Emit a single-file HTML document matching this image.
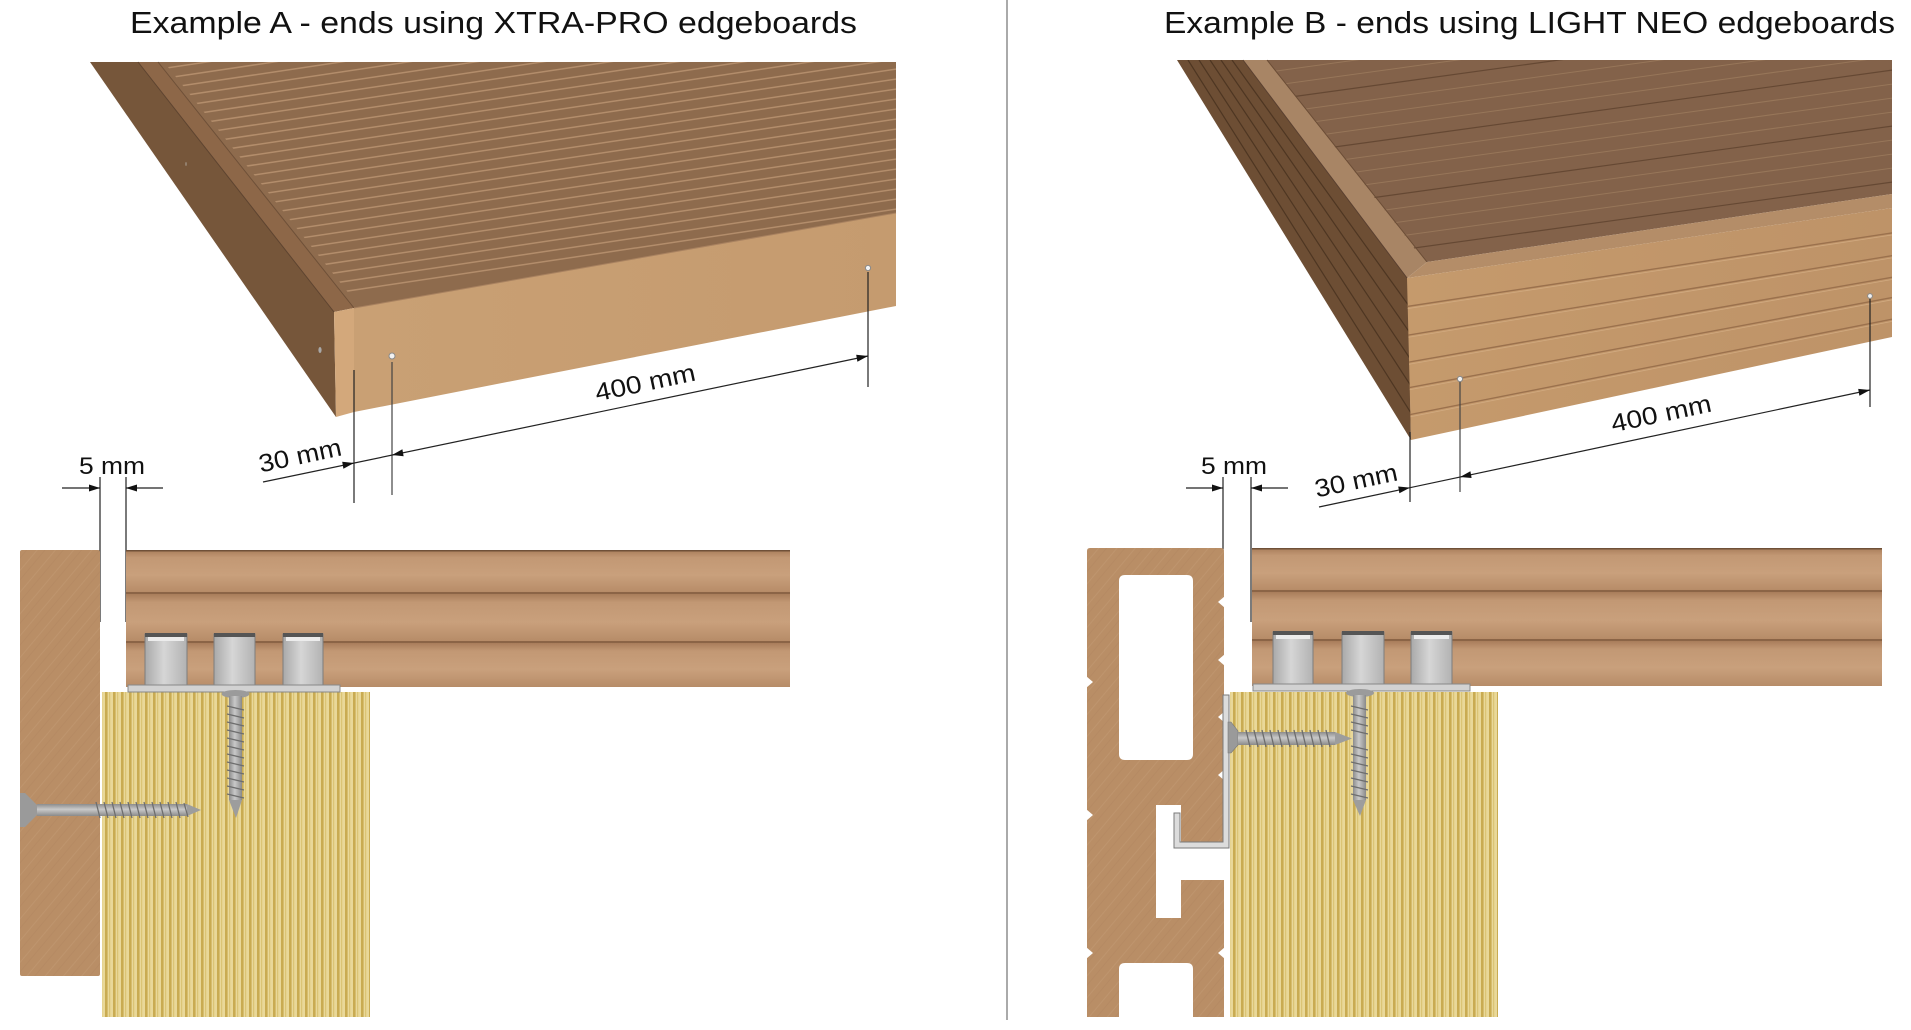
<!DOCTYPE html>
<html><head><meta charset="utf-8">
<style>
html,body{margin:0;padding:0;background:#fff;overflow:hidden;}
svg{display:block;}
text{font-family:"Liberation Sans",sans-serif;fill:#111;}
</style></head>
<body>
<svg width="1911" height="1030" viewBox="0 0 1911 1030" xmlns="http://www.w3.org/2000/svg">
<defs>
  <pattern id="joist" width="8" height="60" patternUnits="userSpaceOnUse">
    <rect width="8" height="60" fill="#e9d899"/>
    <rect x="1" y="0" width="2.6" height="60" fill="#c9ab52"/>
    <rect x="5.2" y="0" width="1" height="60" fill="#d8bf6c"/>
  </pattern>
  <pattern id="post" width="14" height="14" patternUnits="userSpaceOnUse" patternTransform="rotate(-50)">
    <rect width="14" height="14" fill="#b98e66"/>
    <line x1="0" y1="4" x2="14" y2="4" stroke="#c19871" stroke-width="0.7"/>
    <line x1="0" y1="10" x2="14" y2="10" stroke="#b1875f" stroke-width="0.5"/>
  </pattern>
  <linearGradient id="band" x1="0" y1="0" x2="0" y2="1">
    <stop offset="0" stop-color="#a97d5b"/>
    <stop offset="0.18" stop-color="#c29874"/>
    <stop offset="0.6" stop-color="#c9a07c"/>
    <stop offset="1" stop-color="#b78c68"/>
  </linearGradient>
  <linearGradient id="metal" x1="0" y1="0" x2="1" y2="0">
    <stop offset="0" stop-color="#a9a9a9"/>
    <stop offset="0.45" stop-color="#d6d6d6"/>
    <stop offset="1" stop-color="#b2b2b2"/>
  </linearGradient>
  <linearGradient id="shaftH" x1="0" y1="0" x2="0" y2="1">
    <stop offset="0" stop-color="#8c8c8c"/>
    <stop offset="0.45" stop-color="#c9c9c9"/>
    <stop offset="1" stop-color="#8a8a8a"/>
  </linearGradient>
  <linearGradient id="shaftV" x1="0" y1="0" x2="1" y2="0">
    <stop offset="0" stop-color="#8c8c8c"/>
    <stop offset="0.45" stop-color="#c9c9c9"/>
    <stop offset="1" stop-color="#8a8a8a"/>
  </linearGradient>
  <linearGradient id="frontA" x1="0" y1="0" x2="1" y2="0">
    <stop offset="0" stop-color="#c9a074"/>
    <stop offset="1" stop-color="#c59b6f"/>
  </linearGradient>
  <linearGradient id="frontB" x1="0" y1="0" x2="1" y2="0">
    <stop offset="0" stop-color="#c59a6c"/>
    <stop offset="1" stop-color="#be9368"/>
  </linearGradient>
  <clipPath id="topA"><polygon points="164,62 896,62 896,213 358,305"/></clipPath>
  <clipPath id="topB"><polygon points="1267,60 1892,60 1892,194 1425,262"/></clipPath>
  <clipPath id="frontBc"><polygon points="1407,278 1892,207 1892,337 1411,440"/></clipPath>
  <clipPath id="leftBc"><polygon points="1177,60 1243,60 1408,278 1411,440"/></clipPath>
</defs>

<!-- Titles -->
<text x="130" y="33" font-size="31" textLength="727" lengthAdjust="spacingAndGlyphs">Example A - ends using XTRA-PRO edgeboards</text>
<text x="1164" y="33" font-size="31" textLength="731" lengthAdjust="spacingAndGlyphs">Example B - ends using LIGHT NEO edgeboards</text>

<!-- Divider -->
<line x1="1007" y1="0" x2="1007" y2="1020" stroke="#555" stroke-width="1"/>

<!-- ============ 3D A ============ -->
<polygon points="90,62 138,62 334,312 336,417" fill="#76563a"/>
<polygon points="138,62 158,62 354,308 334,312" fill="#8d6748"/>
<line x1="138" y1="62" x2="334" y2="312" stroke="#5e4430" stroke-width="1"/>
<polygon points="158,62 896,62 896,213 354,308" fill="#8e6b4d"/>
<g clip-path="url(#topA)" stroke="#b38d6b" stroke-width="1.5" fill="none">
  <path d="M150,320.5 L900,208.5 M150,310.5 L900,198.5 M150,300.5 L900,188.5 M150,290.5 L900,178.5 M150,280.5 L900,168.5 M150,270.5 L900,158.5 M150,260.5 L900,148.5 M150,250.5 L900,138.5 M150,240.5 L900,128.5 M150,230.5 L900,118.5 M150,220.5 L900,108.5 M150,210.5 L900,98.5 M150,200.5 L900,88.5 M150,190.5 L900,78.5 M150,180.5 L900,68.5 M150,170.5 L900,58.5 M150,160.5 L900,48.5 M150,150.5 L900,38.5 M150,140.5 L900,28.5 M150,130.5 L900,18.5 M150,120.5 L900,8.5 M150,110.5 L900,-1.5 M150,100.5 L900,-11.5 M150,90.5 L900,-21.5 M150,80.5 L900,-31.5 M150,70.5 L900,-41.5"/>
</g>
<line x1="158" y1="62" x2="354" y2="308" stroke="#6e5038" stroke-width="1"/>
<polygon points="334,312 354,308 354,412 336,417" fill="#d3a87b"/>
<polygon points="354,308 896,213 896,306 354,412" fill="url(#frontA)"/>
<line x1="354" y1="308" x2="896" y2="213" stroke="#a98260" stroke-width="1"/>
<!-- holes -->
<circle cx="392" cy="356" r="3" fill="#f2f2f2" stroke="#8a8a8a" stroke-width="1"/>
<circle cx="868" cy="268" r="2.6" fill="#f2f2f2" stroke="#8a8a8a" stroke-width="1"/>
<ellipse cx="320" cy="350" rx="1.6" ry="3" fill="#a8a8a8"/>
<ellipse cx="186" cy="164" rx="0.8" ry="2" fill="#9a8a7a"/>

<!-- dims A -->
<g stroke="#222" stroke-width="1.2">
  <line x1="354" y1="370" x2="354" y2="503"/>
  <line x1="392" y1="362" x2="392" y2="495" stroke="#444"/>
  <line x1="868" y1="272" x2="868" y2="387"/>
  <line x1="263" y1="482" x2="868" y2="356"/>
</g>
<g fill="#111">
  <polygon points="354,463 343.4,468.7 342.2,461.8"/>
  <polygon points="392,455 403.6,456.2 402.4,449.3"/>
  <polygon points="868,356 857.4,361.7 856.2,354.8"/>
</g>
<text transform="translate(300,455) rotate(-12)" x="0" y="9" font-size="25" text-anchor="middle" textLength="84" lengthAdjust="spacingAndGlyphs">30 mm</text>
<text transform="translate(645,382) rotate(-12)" x="0" y="9" font-size="25" text-anchor="middle" textLength="102" lengthAdjust="spacingAndGlyphs">400 mm</text>

<!-- 5mm A -->
<g stroke="#222" stroke-width="1.2">
  <line x1="100" y1="477" x2="100" y2="622"/>
  <line x1="126" y1="477" x2="126" y2="622"/>
  <line x1="62" y1="488" x2="100" y2="488"/>
  <line x1="126" y1="488" x2="163" y2="488"/>
</g>
<polygon points="100,488 89,484.5 89,491.5" fill="#111"/>
<polygon points="126,488 137,484.5 137,491.5" fill="#111"/>
<text x="112" y="474" font-size="24" text-anchor="middle" textLength="66" lengthAdjust="spacingAndGlyphs">5 mm</text>

<!-- ============ 3D B ============ -->
<polygon points="1177,60 1243,60 1408,278 1411,440" fill="#6d4e34"/>
<g clip-path="url(#leftBc)" stroke="#4e3622" stroke-width="1.2" fill="none">
  <path d="M1188,60 L1411,413 M1199,60 L1411,386 M1210,60 L1411,360 M1221,60 L1410,333 M1232,60 L1409,306"/>
</g>
<polygon points="1243,60 1267,60 1427,262 1407,278" fill="#a88565"/>
<line x1="1243" y1="60" x2="1407" y2="278" stroke="#5a4030" stroke-width="1"/>
<polygon points="1267,60 1892,60 1892,194 1427,262" fill="#83624a"/>
<g clip-path="url(#topB)" fill="none">
  <path d="M1240,258 L1900,167 M1240,244 L1900,153 M1240,230 L1900,139 M1240,202 L1900,111 M1240,188 L1900,97 M1240,174 L1900,83 M1240,146 L1900,55 M1240,132 L1900,41 M1240,118 L1900,27 M1240,90 L1900,-1 M1240,76 L1900,-15 M1240,62 L1900,-29" stroke="#977659" stroke-width="1"/>
  <path d="M1240,272 L1900,181 M1240,216 L1900,125 M1240,160 L1900,69 M1240,104 L1900,13" stroke="#654833" stroke-width="1.2"/>
</g>
<line x1="1267" y1="60" x2="1427" y2="262" stroke="#6b4d36" stroke-width="1"/>
<polygon points="1427,262 1892,194 1892,208 1407,278" fill="#b48d68"/>
<polygon points="1407,278 1892,208 1892,337 1411,440" fill="url(#frontB)"/>
<g clip-path="url(#frontBc)" fill="none">
  <path d="M1405,306.8 L1892,232.9 M1405,335.6 L1892,255.7 M1405,362.8 L1892,277.3 M1405,388.4 L1892,297.6 M1405,415.6 L1892,319.2" stroke="#9b714d" stroke-width="1.4"/>
  <path d="M1405,309 L1892,235 M1405,337.8 L1892,257.9 M1405,365 L1892,279.5 M1405,390.6 L1892,299.8 M1405,417.8 L1892,321.4" stroke="#d1aa80" stroke-width="0.8"/>
</g>
<circle cx="1460" cy="379" r="2.6" fill="#f2f2f2" stroke="#8a8a8a" stroke-width="1"/>
<circle cx="1870" cy="296" r="2.4" fill="#f2f2f2" stroke="#8a8a8a" stroke-width="1"/>

<!-- dims B -->
<g stroke="#222" stroke-width="1.2">
  <line x1="1410" y1="432" x2="1410" y2="502"/>
  <line x1="1460" y1="382" x2="1460" y2="492" stroke="#444"/>
  <line x1="1870" y1="299" x2="1870" y2="407"/>
  <line x1="1319" y1="507" x2="1870" y2="390"/>
</g>
<g fill="#111">
  <polygon points="1410,487.6 1399.4,493.3 1398.2,486.5"/>
  <polygon points="1460,477 1471.6,478.0 1470.4,471.2"/>
  <polygon points="1870,390 1859.4,395.7 1858.2,388.9"/>
</g>
<text transform="translate(1356,480) rotate(-12)" x="0" y="9" font-size="25" text-anchor="middle" textLength="84" lengthAdjust="spacingAndGlyphs">30 mm</text>
<text transform="translate(1661,413) rotate(-12)" x="0" y="9" font-size="25" text-anchor="middle" textLength="102" lengthAdjust="spacingAndGlyphs">400 mm</text>

<!-- 5mm B -->
<g stroke="#222" stroke-width="1.2">
  <line x1="1223" y1="477" x2="1223" y2="622"/>
  <line x1="1251" y1="477" x2="1251" y2="622"/>
  <line x1="1186" y1="488" x2="1223" y2="488"/>
  <line x1="1251" y1="488" x2="1288" y2="488"/>
</g>
<polygon points="1223,488 1212,484.5 1212,491.5" fill="#111"/>
<polygon points="1251,488 1262,484.5 1262,491.5" fill="#111"/>
<text x="1234" y="474" font-size="24" text-anchor="middle" textLength="66" lengthAdjust="spacingAndGlyphs">5 mm</text>

<!-- ============ Section A ============ -->
<rect x="20" y="550" width="80" height="426" rx="2" fill="url(#post)"/>
<rect x="102" y="692" width="268" height="325" fill="url(#joist)"/>
<!-- deck board A -->
<g>
  <rect x="126" y="550" width="664" height="42" fill="url(#band)"/>
  <rect x="126" y="592" width="664" height="2" fill="#8b6446"/>
  <rect x="126" y="594" width="664" height="47" fill="url(#band)"/>
  <rect x="126" y="641" width="664" height="2" fill="#8b6446"/>
  <rect x="126" y="643" width="664" height="44" fill="url(#band)"/>
  <rect x="126" y="550" width="664" height="1.5" fill="#6f5038"/>
</g>
<!-- clips A -->
<g stroke="#7d7d7d" stroke-width="1">
  <rect x="145" y="634" width="42" height="51" fill="url(#metal)"/>
  <rect x="214" y="634" width="41" height="51" fill="url(#metal)"/>
  <rect x="283" y="634" width="40" height="51" fill="url(#metal)"/>
</g>
<g fill="#555">
  <rect x="145" y="633" width="42" height="4"/>
  <rect x="214" y="633" width="41" height="4"/>
  <rect x="283" y="633" width="40" height="4"/>
</g>
<g fill="#ececec">
  <rect x="148" y="637" width="36" height="4"/>
  <rect x="286" y="637" width="34" height="4"/>
</g>
<rect x="128" y="685" width="212" height="7" fill="#d2d2d2" stroke="#888" stroke-width="1"/>
<!-- vertical screw A -->
<ellipse cx="235.5" cy="694" rx="14" ry="4" fill="#9b9b9b"/>
<rect x="229" y="696" width="13" height="104" fill="url(#shaftV)"/>
<polygon points="229,800 242,800 236,818" fill="#9d9d9d"/>
<g stroke="#6d6d6d" stroke-width="1.2">
  <line x1="227" y1="706" x2="244" y2="710"/><line x1="227" y1="714" x2="244" y2="718"/><line x1="227" y1="722" x2="244" y2="726"/><line x1="227" y1="730" x2="244" y2="734"/><line x1="227" y1="738" x2="244" y2="742"/><line x1="227" y1="746" x2="244" y2="750"/><line x1="227" y1="754" x2="244" y2="758"/><line x1="227" y1="762" x2="244" y2="766"/><line x1="227" y1="770" x2="244" y2="774"/><line x1="227" y1="778" x2="244" y2="782"/><line x1="227" y1="786" x2="244" y2="790"/><line x1="227" y1="794" x2="244" y2="798"/>
</g>
<!-- horizontal screw A -->
<polygon points="20,793 25,793 37,805 37,815 25,827 20,827" fill="#9a9a9a"/>
<rect x="37" y="804" width="150" height="12" fill="url(#shaftH)"/>
<polygon points="187,804 201,810 187,816" fill="#9d9d9d"/>
<g stroke="#6d6d6d" stroke-width="1.3">
  <line x1="96" y1="802" x2="100" y2="818"/><line x1="104" y1="802" x2="108" y2="818"/><line x1="112" y1="802" x2="116" y2="818"/><line x1="120" y1="802" x2="124" y2="818"/><line x1="128" y1="802" x2="132" y2="818"/><line x1="136" y1="802" x2="140" y2="818"/><line x1="144" y1="802" x2="148" y2="818"/><line x1="152" y1="802" x2="156" y2="818"/><line x1="160" y1="802" x2="164" y2="818"/><line x1="168" y1="802" x2="172" y2="818"/><line x1="176" y1="802" x2="180" y2="818"/><line x1="184" y1="803" x2="188" y2="817"/>
</g>

<!-- ============ Section B ============ -->
<path fill-rule="evenodd" fill="url(#post)" d="M1090,548 H1221 Q1224,548 1224,551 V843 H1181 V805 H1156 V918 H1181 V880 H1224 V1017 H1193 V969 Q1193,963 1187,963 H1125 Q1119,963 1119,969 V1017 H1087 V551 Q1087,548 1090,548 Z M1125,575 H1187 Q1193,575 1193,581 V754 Q1193,760 1187,760 H1125 Q1119,760 1119,754 V581 Q1119,575 1125,575 Z"/>
<!-- notches -->
<g fill="#fff">
  <polygon points="1086,676 1093,682 1086,688"/>
  <polygon points="1086,809 1093,815 1086,821"/>
  <polygon points="1086,947 1093,953 1086,959"/>
  <polygon points="1225,596 1218,602 1225,608"/>
  <polygon points="1225,654 1218,660 1225,666"/>
  <polygon points="1225,711 1218,717 1225,723"/>
  <polygon points="1225,769 1218,775 1225,781"/>
  <polygon points="1225,947 1218,953 1225,959"/>
</g>
<rect x="1230" y="692" width="268" height="325" fill="url(#joist)"/>
<!-- deck board B -->
<g>
  <rect x="1252" y="548" width="630" height="42" fill="url(#band)"/>
  <rect x="1252" y="590" width="630" height="2" fill="#8b6446"/>
  <rect x="1252" y="592" width="630" height="47" fill="url(#band)"/>
  <rect x="1252" y="639" width="630" height="2" fill="#8b6446"/>
  <rect x="1252" y="641" width="630" height="45" fill="url(#band)"/>
  <rect x="1252" y="548" width="630" height="1.5" fill="#6f5038"/>
</g>
<g stroke="#7d7d7d" stroke-width="1">
  <rect x="1273" y="632" width="40" height="52" fill="url(#metal)"/>
  <rect x="1342" y="632" width="42" height="52" fill="url(#metal)"/>
  <rect x="1411" y="632" width="41" height="52" fill="url(#metal)"/>
</g>
<g fill="#555">
  <rect x="1273" y="631" width="40" height="4"/>
  <rect x="1342" y="631" width="42" height="4"/>
  <rect x="1411" y="631" width="41" height="4"/>
</g>
<g fill="#ececec">
  <rect x="1276" y="635" width="34" height="4"/>
  <rect x="1414" y="635" width="35" height="4"/>
</g>
<rect x="1253" y="684" width="217" height="7" fill="#d2d2d2" stroke="#888" stroke-width="1"/>
<!-- bracket -->
<path d="M1223,695 H1229 V848 H1174 V813 H1180 V842 H1223 Z" fill="#dcdcdc" stroke="#7a7a7a" stroke-width="1"/>
<!-- vertical screw B -->
<ellipse cx="1360" cy="693" rx="14" ry="4" fill="#9b9b9b"/>
<rect x="1353" y="695" width="13" height="105" fill="url(#shaftV)"/>
<polygon points="1353,800 1366,800 1360,816" fill="#9d9d9d"/>
<g stroke="#6d6d6d" stroke-width="1.2">
  <line x1="1351" y1="706" x2="1368" y2="710"/><line x1="1351" y1="714" x2="1368" y2="718"/><line x1="1351" y1="722" x2="1368" y2="726"/><line x1="1351" y1="730" x2="1368" y2="734"/><line x1="1351" y1="746" x2="1368" y2="750"/><line x1="1351" y1="754" x2="1368" y2="758"/><line x1="1351" y1="762" x2="1368" y2="766"/><line x1="1351" y1="770" x2="1368" y2="774"/><line x1="1351" y1="778" x2="1368" y2="782"/><line x1="1351" y1="786" x2="1368" y2="790"/><line x1="1351" y1="794" x2="1368" y2="798"/>
</g>
<!-- horizontal screw B -->
<polygon points="1228,722 1231,722 1238,731 1238,745 1231,753 1228,753" fill="#9a9a9a" stroke="#777" stroke-width="0.6"/>
<rect x="1238" y="732" width="97" height="13" fill="url(#shaftH)"/>
<polygon points="1335,732 1352,738.5 1335,745" fill="#9d9d9d"/>
<g stroke="#6d6d6d" stroke-width="1.3">
  <line x1="1246" y1="730" x2="1250" y2="747"/><line x1="1254" y1="730" x2="1258" y2="747"/><line x1="1262" y1="730" x2="1266" y2="747"/><line x1="1270" y1="730" x2="1274" y2="747"/><line x1="1278" y1="730" x2="1282" y2="747"/><line x1="1286" y1="730" x2="1290" y2="747"/><line x1="1294" y1="730" x2="1298" y2="747"/><line x1="1302" y1="730" x2="1306" y2="747"/><line x1="1310" y1="730" x2="1314" y2="747"/><line x1="1318" y1="730" x2="1322" y2="747"/><line x1="1326" y1="730" x2="1330" y2="747"/>
</g>
</svg>
</body></html>
